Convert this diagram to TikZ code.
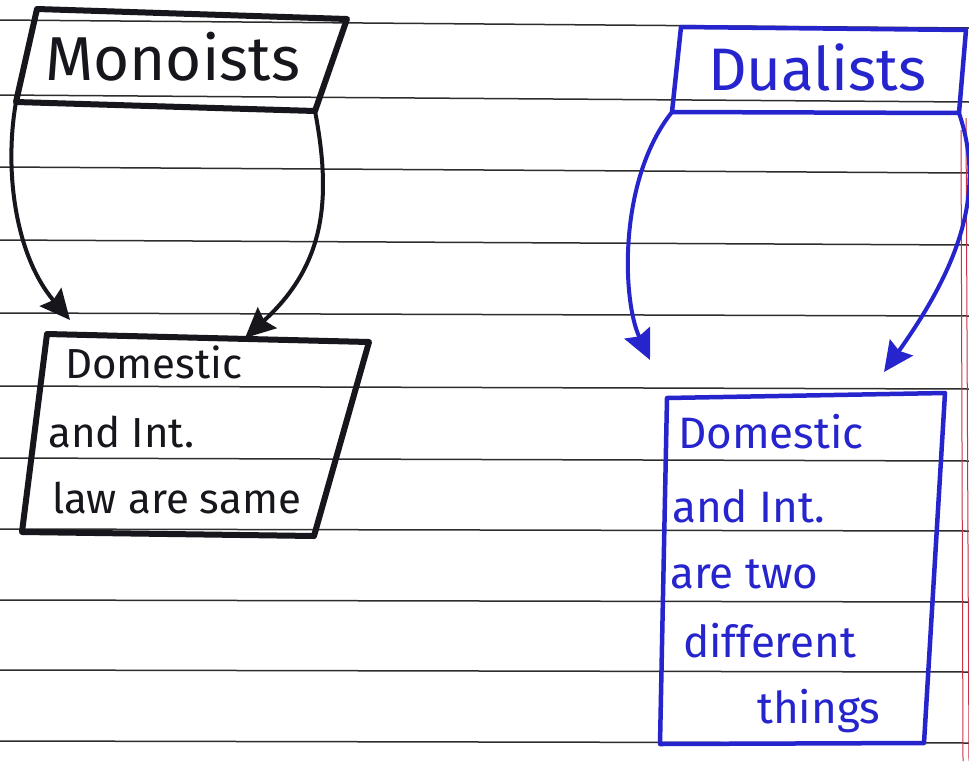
\documentclass[tikz,border=0pt]{standalone}
\usepackage{fontspec}
\setmainfont{Fira Sans}
\usetikzlibrary{arrows.meta}
\definecolor{inkblack}{RGB}{22,22,28}
\definecolor{inkblue}{RGB}{38,36,205}
\definecolor{rulegray}{RGB}{45,45,45}
\definecolor{marginred}{RGB}{200,50,70}
\begin{document}
\begin{tikzpicture}[x=1pt,y=-1pt,
  ruling/.style={rulegray,line width=1.5pt},
  marginline/.style={marginred,line width=1pt},
  blackbox/.style={draw=inkblack,line width=6pt,line join=round},
  bluebox/.style={draw=inkblue,line width=4.5pt,line join=round},
  blackarrow/.style={inkblack,line width=4pt,-{Stealth[length=30pt,width=28pt,inset=4pt]}},
  bluearrow/.style={inkblue,line width=4pt,-{Stealth[length=30pt,width=28pt,inset=4pt]}},
  titletext/.style={inner sep=0pt,anchor=base west,font=\fontsize{62}{70}\selectfont},
  blacknote/.style={inner sep=0pt,anchor=base west,text=inkblack,font=\fontsize{42}{50}\selectfont},
  bluenote/.style={inner sep=0pt,anchor=base west,text=inkblue,font=\fontsize{44}{50}\selectfont},
]
\useasboundingbox (0,0) rectangle (969,761);
\fill[white] (0,0) rectangle (969,761);

% ruled notebook lines
\foreach \y/\d in {20/8,95/7,167/6,240/5,313/3,386/3,458/3,529/2,600/2,670/2,741/2}
  \draw[ruling] (0,\y) -- (969,\y+\d);
% margin lines at the right edge
\draw[marginline] (961,130) -- (963,761);
\draw[marginline] (966,118) -- (969,761);

% Monoists heading box
\coordinate (mTL) at (37,9);
\coordinate (mTR) at (347,19);
\coordinate (mBR) at (315,111);
\coordinate (mBL) at (16,102);
\draw[blackbox] (mTL) -- (mTR) -- (mBR) -- (mBL) -- cycle;
\node[titletext,text=inkblack] (monoT) at (45,80) {Monoists};

% box under Monoists
\coordinate (lTL) at (47,334);
\coordinate (lTR) at (369,342);
\coordinate (lBR) at (314,536);
\coordinate (lBL) at (22,532);
\draw[blackbox] (lTL) -- (lTR) -- (lBR) -- (lBL) -- cycle;
\node[blacknote] (l1) at (65,378) {Domestic};
\node[blacknote] (l2) at (48,447) {and Int.};
\node[blacknote] (l3) at (52,513) {law are same};

% Monoists arrows
\coordinate (mArrL) at (70,320);
\coordinate (mArrR) at (245,338);
\draw[blackarrow] (mBL) .. controls (4,170) and (15,255) .. (mArrL);
\draw[blackarrow] (mBR) .. controls (332,200) and (325,265) .. (mArrR);

% Dualists heading box
\coordinate (dTL) at (681,27);
\coordinate (dTR) at (966,30);
\coordinate (dBR) at (959,113);
\coordinate (dBL) at (672,112);
\draw[bluebox] (dTL) -- (dTR) -- (dBR) -- (dBL) -- cycle;
\node[titletext,text=inkblue,font=\fontsize{60}{70}\selectfont] (dualT) at (708,90) {Dualists};

% box under Dualists
\coordinate (rTL) at (667,398);
\coordinate (rTR) at (945,393);
\coordinate (rBR) at (924,743);
\coordinate (rBL) at (660,744);
\draw[bluebox] (rTL) -- (rTR) -- (rBR) -- (rBL) -- cycle;
\node[bluenote] (r1) at (678,448) {Domestic};
\node[bluenote] (r2) at (672,522) {and Int.};
\node[bluenote] (r3) at (670,588) {are two};
\node[bluenote] (r4) at (683,657) {different};
\node[bluenote] (r5) at (757,723) {things};

% Dualists arrows
\coordinate (dArrL) at (650,360);
\coordinate (dArrR) at (884,372);
\draw[bluearrow] (dBL) .. controls (618,180) and (622,300) .. (dArrL);
\draw[bluearrow] (dBR) .. controls (985,190) and (962,262) .. (dArrR);
\end{tikzpicture}
\end{document}
